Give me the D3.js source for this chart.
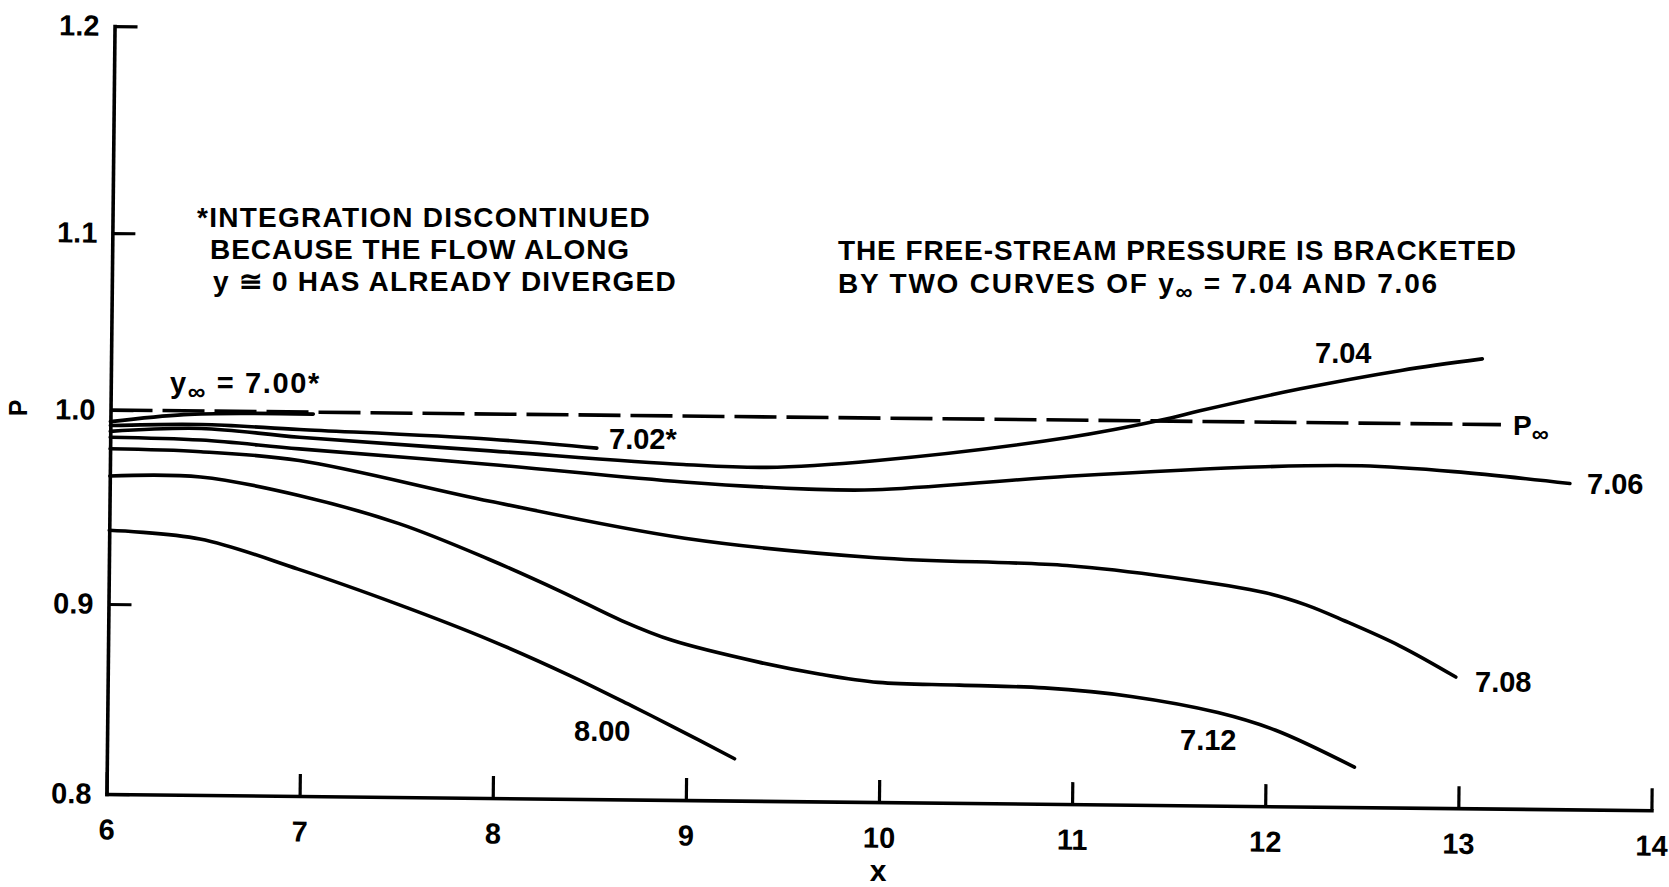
<!DOCTYPE html>
<html>
<head>
<meta charset="utf-8">
<script src="https://cdn.jsdelivr.net/npm/d3@7"></script>
<style>
  html, body { margin: 0; padding: 0; background: #fff; }
  svg { display: block; }
  text { font-family: "Liberation Sans", Arial, Helvetica, sans-serif; font-weight: bold; fill: #000; }
</style>
</head>
<body>
<svg id="chart" width="1669" height="887"></svg>
<script>
// Axis ticks
const xTicks = [6, 7, 8, 9, 10, 11, 12, 13, 14];
const pTicks = [0.8, 0.9, 1.0, 1.1, 1.2];

// Surface pressure P along x, one curve per free-stream height y∞  ([x, P])
const curve700 = [[6.00, 0.994], [6.38, 0.998], [6.72, 0.999], [7.05, 0.999]];
const curve702 = [[6.00, 0.992], [6.47, 0.993], [6.98, 0.991], [7.97, 0.987], [8.52, 0.983]];
const curve704 = [[6.00, 0.989], [6.47, 0.991], [6.98, 0.987], [7.97, 0.981], [8.97, 0.975], [9.40, 0.974],
                  [9.96, 0.978], [10.96, 0.991], [11.46, 1.001], [11.64, 1.006], [12.16, 1.019], [12.68, 1.030], [13.10, 1.037]];
const curve706 = [[6.00, 0.986], [6.47, 0.985], [6.98, 0.981], [7.97, 0.974], [8.97, 0.966], [9.62, 0.963],
                  [9.96, 0.963], [10.96, 0.971], [11.98, 0.977], [12.48, 0.978], [12.96, 0.9755], [13.56, 0.970]];
const curve708 = [[6.00, 0.980], [6.47, 0.979], [6.98, 0.975], [7.97, 0.955], [8.98, 0.937], [9.97, 0.928],
                  [10.96, 0.925], [11.50, 0.9195], [11.99, 0.912], [12.20, 0.906], [12.40, 0.898], [12.69, 0.885], [12.98, 0.869]];
const curve712 = [[6.00, 0.966], [6.47, 0.966], [6.98, 0.957], [7.50, 0.943], [7.97, 0.925], [8.34, 0.909],
                  [8.66, 0.894], [8.92, 0.884], [9.37, 0.873], [9.69, 0.867], [9.99, 0.863], [10.41, 0.862],
                  [10.85, 0.861], [11.30, 0.857], [11.75, 0.849], [12.05, 0.840], [12.46, 0.821]];
const curve800 = [[6.00, 0.938], [6.47, 0.934], [6.98, 0.919], [7.51, 0.901], [7.98, 0.883], [8.39, 0.865],
                  [8.72, 0.849], [8.92, 0.839], [9.25, 0.822]];

// Free-stream pressure reference line
const pInfinity = 1.0;
const pInfinitySpan = [6, 13.2];

const curves = [curve700, curve702, curve704, curve706, curve708, curve712, curve800];

const svg = d3.select("#chart");
svg.append("rect").attr("width", 1669).attr("height", 887).attr("fill", "#fff");

// The plotting frame sits a little off square on the sheet
const plot = svg.append("g").attr("transform", "translate(106.5,794) rotate(0.6)");

const x = d3.scaleLinear().domain([6, 14]).range([0, 1545]);
const y = d3.scaleLinear().domain(pTicks).range([0, -190, -384, -561, -768]);

const STROKE = 3.6;

// Axes with inward ticks
const xAxis = plot.append("g")
  .call(d3.axisBottom(x).tickValues(xTicks).tickSizeInner(-22).tickSizeOuter(0).tickPadding(25).tickFormat(d3.format("d")))
  .attr("font-size", 29).attr("font-family", null);
const yAxis = plot.append("g")
  .call(d3.axisLeft(y).tickValues(pTicks).tickSizeInner(-23).tickSizeOuter(0).tickPadding(15).tickFormat(d3.format(".1f")))
  .attr("font-size", 29).attr("font-family", null);

[xAxis, yAxis].forEach(a => {
  a.select(".domain").attr("stroke", "#000").attr("stroke-width", STROKE).attr("stroke-linecap", "square");
  a.selectAll(".tick line").attr("stroke", "#000").attr("stroke-width", 3.2);
  a.selectAll(".tick text").attr("fill", "#000");
});

// Dashed free-stream line
const line = d3.line().x(d => x(d[0])).y(d => y(d[1]));
plot.append("path")
  .attr("d", line(pInfinitySpan.map(v => [v, pInfinity])))
  .attr("fill", "none").attr("stroke", "#000").attr("stroke-width", STROKE)
  .attr("stroke-dasharray", "42,10");

// Pressure curves
const smooth = d3.line().x(d => x(d[0])).y(d => y(d[1])).curve(d3.curveCatmullRom.alpha(0.5));
plot.selectAll("path.curve").data(curves).join("path")
  .attr("class", "curve")
  .attr("d", smooth)
  .attr("fill", "none").attr("stroke", "#000").attr("stroke-width", STROKE)
  .attr("stroke-linecap", "round").attr("stroke-linejoin", "round");

// Text layer
const txt = svg.append("g");

function fitWidth(sel, target) {
  const node = sel.node();
  const w = node.getComputedTextLength();
  const n = node.textContent.length;
  sel.attr("letter-spacing", ((target - w) / n).toFixed(2));
}

function addText(parts, px, py, size, width) {
  const t = txt.append("text").attr("x", px).attr("y", py).attr("font-size", size);
  parts.forEach(p => {
    const s = t.append("tspan").text(p.t);
    if (p.sub) s.attr("font-size", size * 0.85).attr("dy", 7);
    if (p.up) s.attr("dy", -7);
  });
  if (width) fitWidth(t, width);
  return t;
}

// Notes
addText([{t: "*INTEGRATION DISCONTINUED"}], 197, 227, 28, 454);
addText([{t: "BECAUSE THE FLOW ALONG"}], 210, 259, 28, 420);
addText([{t: "y \u2245 0 HAS ALREADY DIVERGED"}], 213, 291, 28, 464);
addText([{t: "THE FREE-STREAM PRESSURE IS BRACKETED"}], 838, 260, 28, 679);
addText([{t: "BY TWO CURVES OF "}, {t: "y"}, {t: "\u221E", sub: true}, {t: " = 7.04 AND 7.06", up: true}], 838, 293, 28, 601);

// Curve labels
addText([{t: "y"}, {t: "\u221E", sub: true}, {t: " = 7.00*", up: true}], 170, 393, 29, 151);
addText([{t: "7.02*"}], 609, 449, 29);
addText([{t: "7.04"}], 1315, 363, 29);
addText([{t: "7.06"}], 1587, 494, 29);
addText([{t: "7.08"}], 1475, 692, 29);
addText([{t: "7.12"}], 1180, 750, 29);
addText([{t: "8.00"}], 574, 741, 29);
addText([{t: "P"}, {t: "\u221E", sub: true}], 1513, 435, 28);

// Axis titles
txt.append("text").attr("x", 878).attr("y", 881).attr("text-anchor", "middle").attr("font-size", 30).text("x");
txt.append("text").attr("transform", "translate(27,408) rotate(-90)").attr("text-anchor", "middle").attr("font-size", 25).text("P");
</script>
</body>
</html>
